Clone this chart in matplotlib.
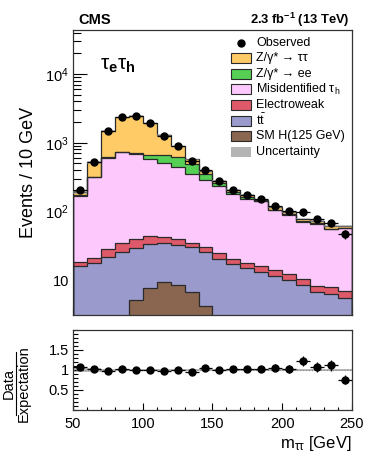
import matplotlib
matplotlib.use('Agg')
import matplotlib.pyplot as plt
from matplotlib.patches import Rectangle
from matplotlib.lines import Line2D
from matplotlib.ticker import FixedLocator, MultipleLocator, FuncFormatter, NullFormatter, LogLocator
import numpy as np

plt.rcParams['font.family'] = ['Liberation Sans', 'DejaVu Sans']
plt.rcParams['mathtext.fontset'] = 'custom'
plt.rcParams['mathtext.rm'] = 'Liberation Sans'
plt.rcParams['mathtext.it'] = 'Liberation Sans:italic'
plt.rcParams['mathtext.bf'] = 'Liberation Sans:bold'

# ---- data (10 GeV bins from 50 to 250) ----
edges = np.arange(50, 260, 10)
centers = edges[:-1] + 5

sm_h = [0.2, 0.5, 1.2, 2.4, 5.1, 7.7, 9.3, 8.6, 6.7, 4.2,
        2.4, 1.3, 0.8, 0.5, 0.3, 0.2, 0.15, 0.1, 0.08, 0.05]
ttbar = [15.9, 17.0, 20.4, 23.2, 23.8, 25.3, 25.3, 23.8, 23.2, 21.1,
         17.8, 15.6, 14.3, 12.7, 11.1, 9.8, 8.25, 6.7, 6.2, 5.45]
electroweak = [2.4, 3.2, 7.0, 9.3, 10.2, 10.2, 7.2, 6.6, 5.0, 4.6,
               4.3, 3.5, 2.6, 2.6, 2.4, 2.1, 1.8, 1.5, 1.55, 1.5]
misid = [152, 295, 575, 695, 653, 542, 470, 403, 319, 255,
         214, 160, 135, 124, 90, 78, 61, 58, 47, 50]
z_ee = [1, 3, 8, 10, 22, 68, 141, 188, 129, 61,
        19, 10, 9, 4, 2.5, 2, 1.5, 1, 1, 0.5]
z_tautau = [20, 198, 894, 1600, 1746, 1262, 644, 254, 89, 38,
            23, 15, 10, 5, 8, 6, 6, 5, 5, 4.5]
observed = [208, 530, 1480, 2400, 2460, 1930, 1275, 884, 548, 406,
            281, 208, 175, 153, 121, 100, 97, 78, 68, 47]
unc_rel = [0.05, 0.04, 0.03, 0.03, 0.03, 0.03, 0.03, 0.03, 0.03, 0.03,
           0.03, 0.03, 0.03, 0.03, 0.03, 0.03, 0.03, 0.03, 0.03, 0.03]

processes = [
    (sm_h, '#8a6650', 'SM H(125 GeV)'),
    (ttbar, '#9a9acc', r'$\mathrm{t\bar{t}}$'),
    (electroweak, '#de5a6a', 'Electroweak'),
    (misid, '#fdc9fd', r'Misidentified $\mathrm{\tau_h}$'),
    (z_ee, '#55d055', 'Z/γ* → ee'),
    (z_tautau, '#fecb66', 'Z/γ* → ττ'),
]

observed = np.array(observed, dtype=float)
edge_col = '#2a2a2a'

fig = plt.figure(figsize=(3.66, 4.63), dpi=100)
ax = fig.add_axes([0.1995, 0.3197, 0.762, 0.6156])
rax = fig.add_axes([0.1995, 0.1145, 0.762, 0.1728], sharex=ax)

# stacked histograms
bottom = np.full(len(centers), 1e-3)
tops = []
for vals, col, lab in processes:
    top = bottom + np.array(vals)
    ax.stairs(top, edges, baseline=bottom, fill=True, color=col, lw=0, zorder=2)
    tops.append((top, col))
    bottom = top
for top, col in tops:
    ax.stairs(top, edges, color=edge_col, lw=0.9, zorder=3)
total = bottom
unc = total * np.array(unc_rel)
ax.stairs(total + unc, edges, baseline=total - unc, fill=True, color='#a0a0a0', alpha=0.55, lw=0, zorder=4)

# observed
ax.errorbar(centers, observed, xerr=5, yerr=np.sqrt(observed), fmt='o', color='k',
            ms=5, elinewidth=0.9, capsize=0, zorder=6)

ax.set_yscale('log')
ax.set_ylim(3.1, 4.4e4)
ax.set_xlim(50, 250)
ax.yaxis.set_major_locator(FixedLocator([10, 100, 1000, 10000]))
ax.yaxis.set_minor_locator(LogLocator(base=10, subs=np.arange(2, 10)))
ax.yaxis.set_minor_formatter(NullFormatter())
ax.yaxis.set_major_formatter(FuncFormatter(lambda v, p: '10' if v == 10 else r'$\mathrm{10^{%d}}$' % round(np.log10(v))))
ax.xaxis.set_major_locator(MultipleLocator(50))
ax.xaxis.set_minor_locator(MultipleLocator(10))
ax.tick_params(axis='y', which='major', direction='in', length=10, width=0.8, labelsize=10.5, pad=3)
ax.tick_params(axis='y', which='minor', direction='in', length=5.5, width=0.8)
ax.tick_params(axis='x', which='major', direction='in', length=5.5, width=0.8, labelbottom=False)
ax.tick_params(axis='x', which='minor', direction='in', length=2.5, width=0.8)
for s in ax.spines.values():
    s.set_linewidth(0.9)
    s.set_color('#333333')
ax.set_ylabel('Events / 10 GeV', fontsize=13, labelpad=6)

# texts
fig.text(0.213, 0.948, 'CMS', fontsize=10.5, fontweight='bold', ha='left', va='baseline')
fig.text(0.955, 0.948, r'2.3 fb$^{\mathbf{-1}}$ (13 TeV)', fontsize=9.3, fontweight='bold',
         ha='right', va='baseline')
ax.text(0.095, 0.86, r'$\mathrm{\tau}_{\mathbf{e}}\mathrm{\tau}_{\mathbf{h}}$', transform=ax.transAxes,
        fontsize=15, ha='left', va='baseline')

# legend (drawn by hand to match the ROOT layout)
leg_rows = [1 - (y - 30) / 285.0 for y in [42.7, 58.3, 73.9, 89.5, 105.1, 120.7, 136.3, 152.0]]
ax.plot([0.602], [leg_rows[0]], 'o', color='k', ms=5, transform=ax.transAxes, clip_on=False, zorder=8)
ax.text(0.656, leg_rows[0], 'Observed', transform=ax.transAxes, fontsize=9, va='center', zorder=8)
leg_items = list(reversed(processes)) + [(None, '#b4b4b4', 'Uncertainty')]
for i, (vals, col, lab) in enumerate(leg_items):
    yc = leg_rows[i + 1]
    ec = 'none' if vals is None else edge_col
    ax.add_patch(Rectangle((0.566, yc - 0.0175), 0.0717, 0.035, facecolor=col, edgecolor=ec,
                           lw=0.8, transform=ax.transAxes, zorder=8))
    ax.text(0.656, yc, lab, transform=ax.transAxes, fontsize=9, va='center', zorder=8)

# ratio panel
ratio = observed / total
ratio_err = np.sqrt(observed) / total
rax.stairs(1 + np.array(unc_rel), edges, baseline=1 - np.array(unc_rel), fill=True,
           color='#b8b8b8', lw=0, zorder=1)
rax.axhline(1, color='#888888', lw=0.8, ls=':', zorder=2)
rax.errorbar(centers, ratio, xerr=5, yerr=ratio_err, fmt='o', color='k', ms=5,
             elinewidth=0.9, capsize=0, zorder=5)
rax.set_ylim(0.0, 2.0)
rax.yaxis.set_major_locator(FixedLocator([0.5, 1.0, 1.5]))
rax.yaxis.set_minor_locator(MultipleLocator(0.1))
rax.yaxis.set_major_formatter(FuncFormatter(lambda v, p: '%g' % v))
rax.tick_params(axis='y', which='major', direction='in', length=7, width=0.8, labelsize=10.5, pad=3)
rax.tick_params(axis='y', which='minor', direction='in', length=3.5, width=0.8)
rax.tick_params(axis='x', which='major', direction='in', length=5, width=0.8, labelsize=10.5, pad=5)
rax.tick_params(axis='x', which='minor', direction='in', length=2.5, width=0.8)
for s in rax.spines.values():
    s.set_linewidth(0.9)
    s.set_color('#333333')
rax.set_xlabel(r'$\mathrm{m_{\tau\tau}}$ [GeV]', fontsize=12, ha='right', x=1.0, labelpad=2)

# Data / Expectation fraction label
fig.text(0.024, 0.172, 'Data', rotation=90, fontsize=10.5, ha='center', va='center')
fig.text(0.064, 0.172, 'Expectation', rotation=90, fontsize=10.5, ha='center', va='center')
fig.add_artist(Line2D([0.045, 0.045], [0.104, 0.24], color='k', lw=0.8))

fig.savefig('out.png', dpi=100)
